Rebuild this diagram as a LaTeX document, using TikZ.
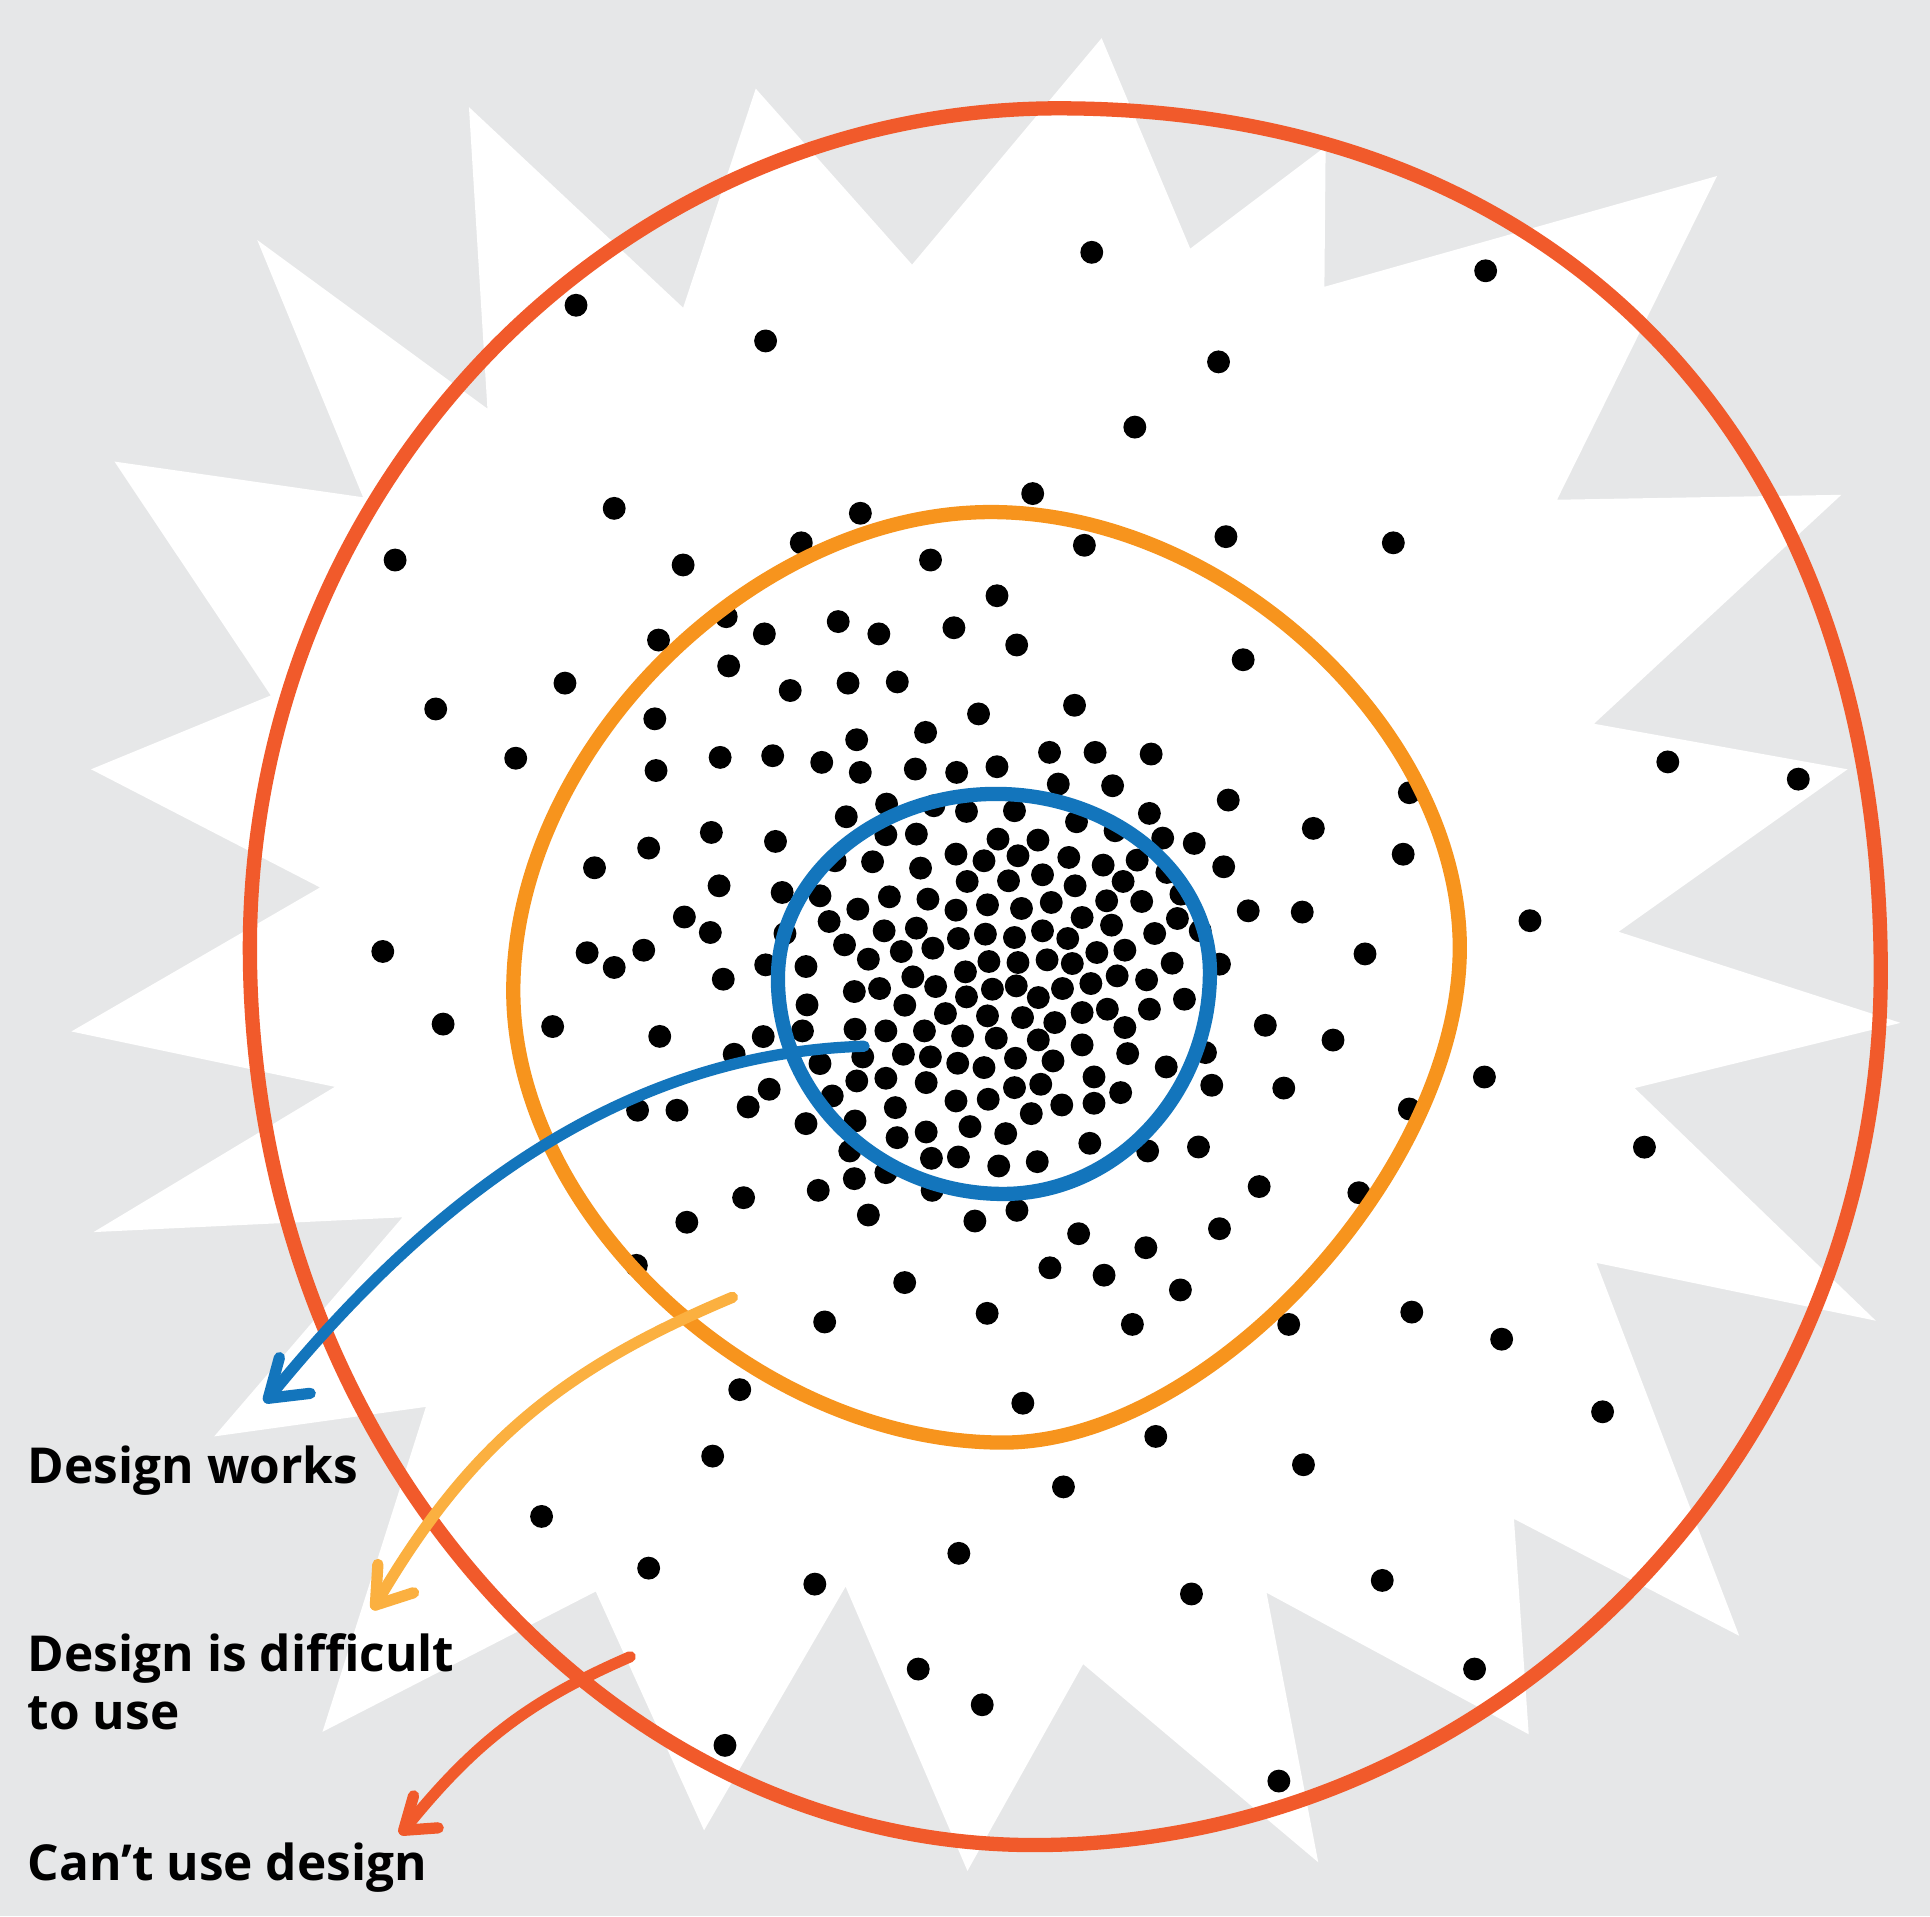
\documentclass[tikz,border=0pt]{standalone}
\usepackage{fontspec}
\setmainfont{Open Sans}
\definecolor{bggray}{HTML}{E6E7E8}
\definecolor{ringred}{HTML}{F15A2B}
\definecolor{ringorange}{HTML}{F7941D}
\definecolor{arroworange}{HTML}{FBB040}
\definecolor{ringblue}{HTML}{1375BC}
\tikzset{
  ring/.style={line width=3.3pt, line join=round},
  arrowline/.style={line width=2.6pt, line cap=round, line join=round},
  label/.style={anchor=base west, inner sep=0pt, font=\fontsize{11.45}{13.4}\selectfont\bfseries, align=left, text=black},
}
\begin{document}
\begin{tikzpicture}[x=0.01cm, y=-0.01cm]
\useasboundingbox (0,0) rectangle (1568,1557);
\fill[bggray] (0,0) rectangle (1568,1557);
% starburst
\fill[white] (895,31) -- (967,202) -- (1077,119) -- (1076,233) -- (1395,143) -- (1265,406) -- (1496,402) -- (1295,588) -- (1501,625) -- (1315,757) -- (1544,831) -- (1328,884) -- (1524,1073) -- (1297,1026) -- (1413,1329) -- (1230,1234) -- (1242,1409) -- (1029,1294) -- (1071,1513) -- (880,1352) -- (786,1520) -- (687,1289) -- (572,1487) -- (484,1293) -- (262,1407) -- (346,1143) -- (174,1167) -- (327,989) -- (76,1001) -- (272,883) -- (58,838) -- (260,721) -- (74,625) -- (220,565) -- (93,375) -- (295,404) -- (209,195) -- (396,332) -- (381,87) -- (555,250) -- (614,72) -- (741,215) -- cycle;
% outer dots
\foreach \x/\y in {887/205,1207/220,468/248,622/277,990/294,922/347,839/401,699/417,499/413,881/443,996/436,1132/441,321/455,555/459,651/441,756/455,810/484,775/510,826/524,590/501,621/515,681/505,714/515,535/520,592/541,1010/536,642/561,689/555,729/554,459/555,354/576,532/584,795/580,873/573,752/595,696/601,419/616,533/626,1145/644,1067/673,1355/619,1461/633,483/705,527/689,1140/694,1243/748,556/745,311/773,477/774,523/772,499/786,1058/741,1109/775,360/832,449/834,536/842,1028/833,1083/845,1206/875,1145/901,518/902,550/902,1043/884,1336/932,1023/964,1104/969,558/993,853/1030,897/1036,959/1048,735/1042,670/1074,802/1067,920/1076,1047/1076,1147/1066,1220/1088,517/1028,601/1129,831/1140,939/1167,1302/1147,579/1183,864/1208,1059/1190,440/1232,527/1274,662/1287,779/1262,968/1295,1123/1284,746/1356,798/1385,589/1418,1198/1356,1039/1447}
  \fill[black] (\x,\y) circle[radius=9.3];
% dense centre dots
\foreach \x/\y in {55/20,205/15,345/35,455/65,612/55,730/65,845/48,995/5,1125/5,1285/10,
1020/100,1175/105,1505/148,415/198,530/160,665/165,758/182,895/180,1072/213,1280/188,1182/240,
30/245,213/272,528/252,615/250,848/265,962/268,1318/262,1408/278,383/330,490/333,627/352,728/310,808/330,905/315,1050/320,1148/343,1245/328,1492/348,
1330/365,52/405,232/425,340/435,538/438,648/445,760/392,878/390,975/372,1068/405,1205/392,1158/450,1258/452,1370/430,
448/475,728/478,818/462,915/473,1000/455,1088/500,1172/523,1360/503,1562/480,
27/545,240/548,366/512,523/540,615/532,735/563,812/550,895/560,975/540,1047/563,1295/548,1425/540,
410/582,478/625,572/602,662/592,822/632,905/635,988/627,1060/638,1130/605,1210/598,1345/637,1480/640,
185/642,300/647,64/685,438/722,510/713,605/678,670/707,755/663,832/715,900/705,963/740,1032/713,1113/698,1188/675,1272/687,1380/745,
303/762,582/763,698/788,758/738,818/795,918/800,1010/815,1088/785,1160/775,1280/775,
178/857,95/910,290/840,440/835,528/840,638/840,747/855,843/862,963/867,1210/830,1440/905,
340/938,462/918,578/910,655/918,733/937,808/950,898/922,1005/930,1088/882,1218/908,1328/948,1458/1003,
195/1015,135/1068,445/990,528/982,643/995,728/1050,820/1045,895/1010,970/1000,1030/1062,1122/978,1122/1057,1198/1025,
375/1035,300/1118,555/1070,440/1110,768/1127,870/1148,943/1088,1110/1177,1275/1200,1420/1188,
425/1200,560/1160,643/1143,658/1222,735/1218,850/1245,960/1232,
438/1283,528/1265,660/1318,335/1318,122/1340,478/1392,782/1410,902/1378,1078/1448,1480/1433,1270/1490}
  \fill[black] ({569.4+0.2847*\x},{609.9+0.271*\y}) circle[radius=9.3];
% rings
\draw[ring, ringred] (860,88) .. controls (1270,88) and (1528,360) .. (1528,790)
  .. controls (1528,1180) and (1218,1499) .. (840,1499)
  .. controls (490,1499) and (203,1171) .. (203,770)
  .. controls (203,395) and (499,88) .. cycle;
\draw[ring, ringorange] (805,416) .. controls (996,416) and (1186,593) .. (1186,770)
  .. controls (1186,951) and (982,1172) .. (815,1172)
  .. controls (616,1172) and (417,988) .. (417,805)
  .. controls (417,610) and (611,416) .. cycle;
\draw[ring, ringblue] (809,645) .. controls (905,645) and (983,710) .. (983,790)
  .. controls (983,889) and (907,970) .. (815,970)
  .. controls (714,970) and (632,891) .. (632,795)
  .. controls (632,712) and (712,645) .. cycle;
% labels
\node[label] (lw) at (22,1205) {Design works};
\node[label] (ld) at (22,1405) {Design is difficult\\to use};
\node[label] (lc) at (22,1528) {Can’t use design};
% arrows
\coordinate (bs) at (702,850);
\coordinate (bt) at (218,1136);
\coordinate (os) at (595,1054);
\coordinate (ot) at (305,1304);
\coordinate (rs) at (512,1346);
\coordinate (rt) at (328,1487);
\draw[arrowline, ringblue] (bs) .. controls (502,856) and (346,978) .. (bt);
\draw[arrowline, ringblue] (227,1103) -- (bt) -- (252,1132);
\draw[arrowline, arroworange] (os) .. controls (457,1112) and (381,1173) .. (ot);
\draw[arrowline, arroworange] (307,1271) -- (ot) -- (336,1294);
\draw[arrowline, ringred] (rs) .. controls (429,1382) and (385,1416) .. (rt);
\draw[arrowline, ringred] (336,1459) -- (rt) -- (356,1485);
\end{tikzpicture}
\end{document}
